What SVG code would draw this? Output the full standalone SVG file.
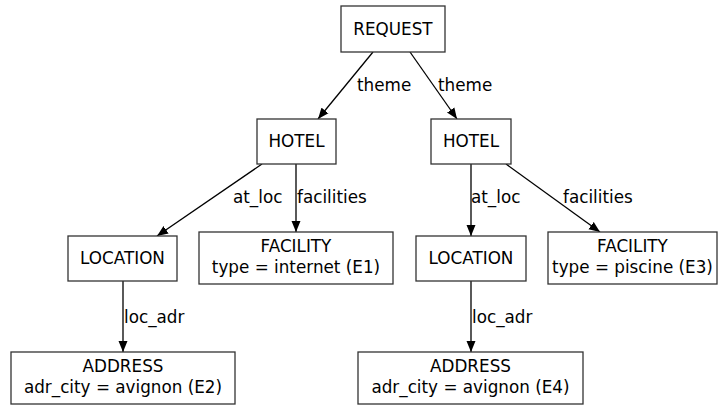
<svg xmlns="http://www.w3.org/2000/svg" width="719" height="405" viewBox="0 0 719 405">
<style>
.box{fill:#fff;stroke:#333;stroke-width:1.3}
.lbl{font-family:"DejaVu Sans",sans-serif;font-size:16.8px;fill:#000}
.nt{text-anchor:middle}
.edge{stroke:#000;stroke-width:1.3;fill:none;marker-end:url(#arr)}
</style>
<defs>
<marker id="arr" markerWidth="12" markerHeight="10" refX="11" refY="5" orient="auto" markerUnits="userSpaceOnUse">
<path d="M0,0.5 L11,5 L0,9.5 Z" fill="#000"/>
</marker>
</defs>
<rect width="719" height="405" fill="#fff"/>
<g id="connectors">
<line class="edge" x1="373" y1="52" x2="318" y2="119"/>
<line class="edge" x1="410" y1="52" x2="457" y2="119"/>
<line class="edge" x1="262" y1="164" x2="157" y2="236"/>
<line class="edge" x1="296" y1="164" x2="296" y2="232"/>
<line class="edge" x1="471" y1="164" x2="471" y2="236"/>
<line class="edge" x1="506" y1="164" x2="600" y2="232"/>
<line class="edge" x1="123" y1="281" x2="123" y2="352"/>
<line class="edge" x1="471" y1="281" x2="471" y2="352"/>
<text class="lbl" x="357" y="91">theme</text>
<text class="lbl" x="438" y="91">theme</text>
<text class="lbl" x="233" y="203">at_loc</text>
<text class="lbl" x="297" y="203">facilities</text>
<text class="lbl" x="471" y="203">at_loc</text>
<text class="lbl" x="563" y="203">facilities</text>
<text class="lbl" x="124" y="323">loc_adr</text>
<text class="lbl" x="472" y="323">loc_adr</text>
</g>
<g id="request"><rect class="box" x="341" y="6" width="104" height="46"/><text class="lbl nt" x="393" y="35">REQUEST</text></g>
<g id="hotel1"><rect class="box" x="257" y="119" width="79" height="45"/><text class="lbl nt" x="296.5" y="147">HOTEL</text></g>
<g id="hotel2"><rect class="box" x="431" y="119" width="80" height="45"/><text class="lbl nt" x="471" y="147">HOTEL</text></g>
<g id="location1"><rect class="box" x="68" y="236" width="109" height="45"/><text class="lbl nt" x="122.5" y="264">LOCATION</text></g>
<g id="facility1"><rect class="box" x="199" y="232" width="194" height="52"/><text class="lbl nt" x="296" y="252">FACILITY</text><text class="lbl nt" x="296" y="273">type = internet (E1)</text></g>
<g id="location2"><rect class="box" x="416" y="236" width="110" height="45"/><text class="lbl nt" x="471" y="264">LOCATION</text></g>
<g id="facility2"><rect class="box" x="548" y="232" width="169" height="52"/><text class="lbl nt" x="632.5" y="252">FACILITY</text><text class="lbl nt" x="632.5" y="273">type = piscine (E3)</text></g>
<g id="address1"><rect class="box" x="11" y="352" width="224" height="52"/><text class="lbl nt" x="123" y="372">ADDRESS</text><text class="lbl nt" x="123" y="393">adr_city = avignon (E2)</text></g>
<g id="address2"><rect class="box" x="358" y="352" width="225" height="52"/><text class="lbl nt" x="470.5" y="372">ADDRESS</text><text class="lbl nt" x="470.5" y="393">adr_city = avignon (E4)</text></g>
</svg>
